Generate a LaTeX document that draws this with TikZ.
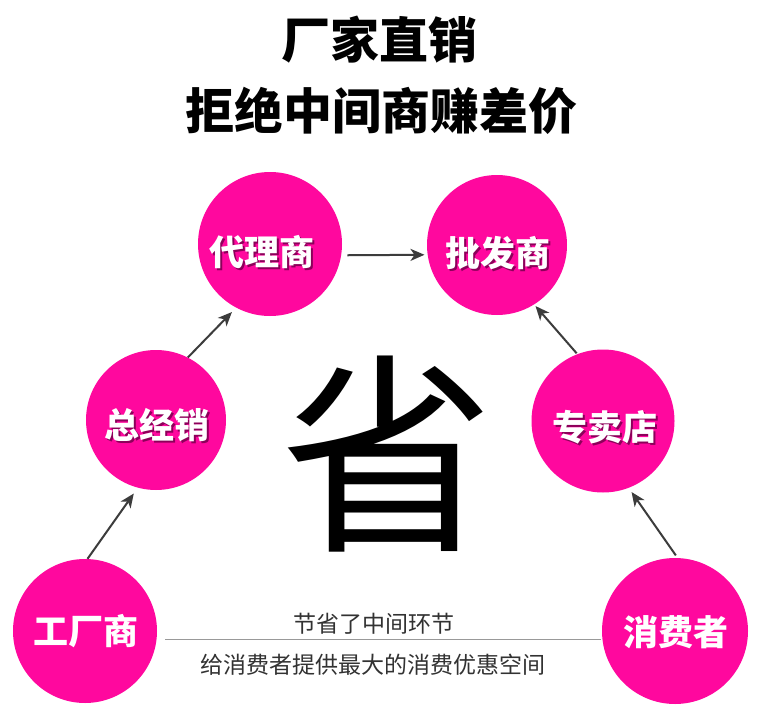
\documentclass[tikz,border=0pt]{standalone}
\usepackage{fontspec}
\newfontfamily\cjk{Noto Sans CJK SC}
\usetikzlibrary{arrows.meta}
\definecolor{pinkc}{RGB}{255,8,158}
\definecolor{arrc}{RGB}{60,60,60}
\definecolor{shadc}{RGB}{140,0,90}
\definecolor{txtc}{RGB}{50,50,50}
\newcommand{\shadtext}[1]{\makebox[0pt][l]{\hspace{2pt}\raisebox{-2pt}{\textcolor{shadc}{#1}}}#1}
\tikzset{
  circ/.style={circle,fill=pinkc,inner sep=0pt,minimum size=#1},
  ctext/.style={font=\cjk\bfseries\fontsize{35}{35}\selectfont,text=white,inner sep=0pt},
  arr/.style={draw=arrc,line width=2pt,-{Stealth[length=14pt,width=12pt,inset=4pt]}},
  title/.style={font=\cjk\bfseries\fontsize{49}{49}\selectfont,inner sep=0pt},
  small/.style={font=\cjk\fontsize{23}{23}\selectfont,text=txtc,inner sep=0pt}
}
\begin{document}
\begin{tikzpicture}[x=1pt,y=-1pt]
\useasboundingbox[fill=white] (0,0) rectangle (758,717);
% titles
\node[title] (t1) at (379,40) {厂家直销};
\node[title] (t2) at (381,111) {拒绝中间商赚差价};
% big char
\node[font=\cjk\fontsize{214}{214}\selectfont,inner sep=0pt] (sheng) at (387,454) {省};
% circles
\node[circ=144pt] (dl) at (270,244) {};
\node[circ=140pt] (pf) at (497,245) {};
\node[circ=140pt] (zj) at (156,420) {};
\node[circ=143pt] (zm) at (603,421) {};
\node[circ=144pt] (gc) at (85,631) {};
\node[circ=146pt] (xf) at (675,631) {};
% circle texts
\node[ctext] (dlt) at (262,253) {\shadtext{代理商}};
\node[ctext] (pft) at (498,254) {\shadtext{批发商}};
\node[ctext] (zjt) at (157,426) {\shadtext{总经销}};
\node[ctext] (zmt) at (605,428) {\shadtext{专卖店}};
\node[ctext] (gct) at (86,631) {工厂商};
\node[ctext] (xft) at (676,632) {消费者};
% arrows
\draw[arr,shorten <=6pt,shorten >=3pt] (dl.-9) -- (pf.188.7);
\draw[arr,shorten >=7pt] (gc.88) -- (zj.255);
\draw[arr,shorten >=6pt] (zj.63) -- (dl.242.4);
\draw[arr,shorten <=3pt,shorten >=5pt] (xf.88) -- (zm.291.5);
\draw[arr,shorten <=1pt,shorten >=2pt] (zm.111) -- (pf.302.6);
% bottom line and texts
\coordinate (la) at (165,639);
\coordinate (lb) at (601,639);
\draw[draw=gray!80,line width=1pt] (la) -- (lb);
\node[small] (s1) at (374,624) {节省了中间环节};
\node[small] (s2) at (373,665) {给消费者提供最大的消费优惠空间};
\end{tikzpicture}
\end{document}
